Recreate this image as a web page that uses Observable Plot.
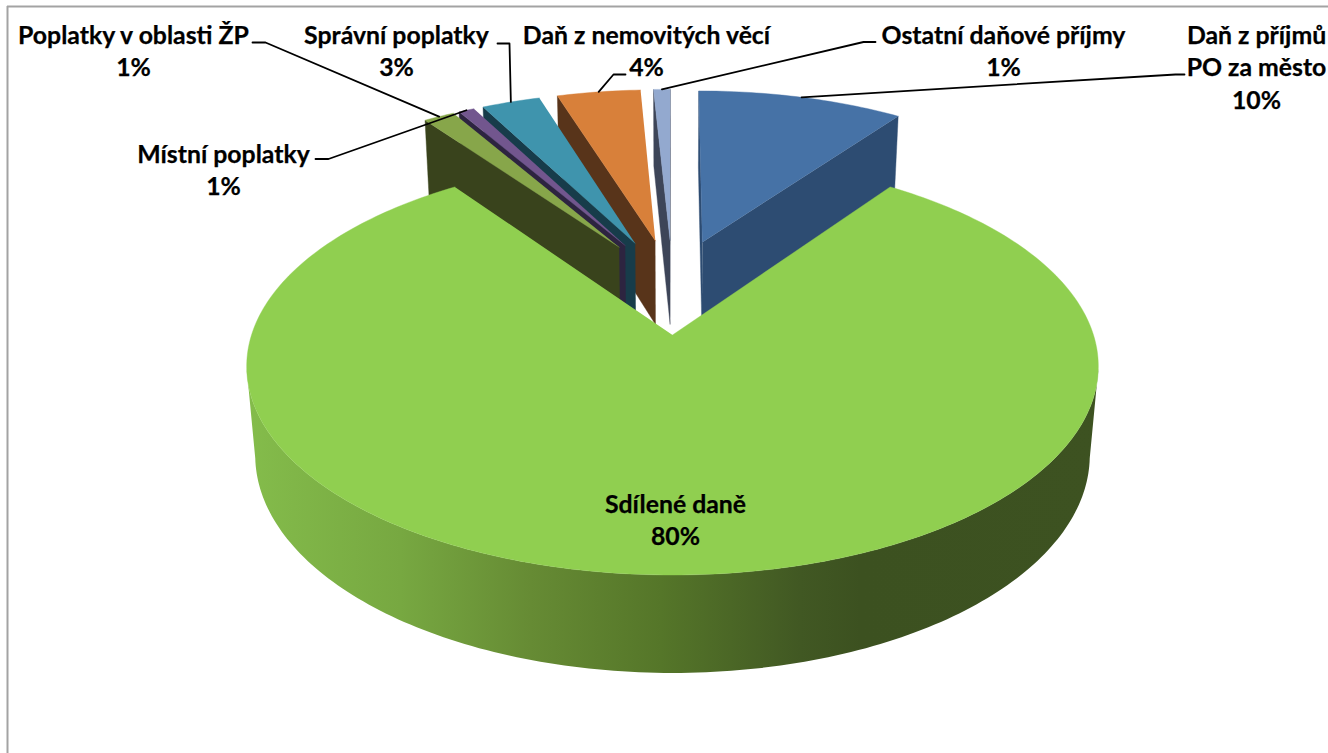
<!DOCTYPE html>
<html>
<head>
<meta charset="utf-8">
<script src="https://cdn.jsdelivr.net/npm/d3@7"></script>
<script src="https://cdn.jsdelivr.net/npm/@observablehq/plot@0.6"></script>
<style>
html,body{margin:0;padding:0;background:#fff;overflow:hidden}
svg{display:block}
</style>
</head>
<body>
<div id="chart"></div>
<script>
// Data, clockwise from the large slice
const names = ["Sdílené daně","Poplatky v oblasti ŽP","Místní poplatky","Správní poplatky","Daň z nemovitých věcí","Ostatní daňové příjmy","Daň z příjmů\nPO za město"];
const shares = [80.3, 1.49, 0.76, 2.8, 4.0, 0.8, 9.85];
const topColors = ["#90cf50","#87a64a","#72568e","#3f94ad","#d8803a","#93a9cf","#4672a6"];
const wallColors = ["#3c5120","#39431c","#2d2440","#173c4a","#58341a","#3d4558","#2d4c72"];

// Layout (separate from data): label centres and leader elbows
const labelAt = [[675,518],[133,49],[223,168],[396,49],[646,49],[1003,49],[1256,65.5]];
const leaderFrom = [null,[[252,42],[265,42]],[[315,158.5],[328,158.5]],[[497,43],[509,43]],[[625,74],[613,74]],[[875,41.5],[863,41.5]],[[1184,74],[1175,74]]];

// Perspective view of the exploded pie
const view = {cx:672, cy:334.5, A:421, B:204, H:90, k:0.15, m:0.02, e:0.25, rSmall:0.97};
const project = (u,v,h) => {
  const w = 1 - view.k*v + view.m*h;
  return {x:view.cx + view.A*u/w, y:view.cy + (view.B*v + view.H*h)/w};
};
const rad = d => d*Math.PI/180;
const cam = [0, 1/view.k];
const start = 180 - shares[0]*3.6/2;
const cum = d3.cumsum(shares);
const slices = shares.map((s,i) => {
  const t0 = start + (i ? cum[i-1] : 0)*3.6, t1 = t0 + s*3.6, b = (t0+t1)/2;
  const c = [view.e*Math.sin(rad(b)), -view.e*Math.cos(rad(b)) - view.e];
  return {i,t0,t1,b,c,r:i ? view.rSmall : 1};
});
const rimPt = (sl,t,h) => project(sl.c[0]+sl.r*Math.sin(rad(t)), sl.c[1]-sl.r*Math.cos(rad(t)), h);
const arcAngles = sl => { const n = Math.max(6, Math.ceil((sl.t1-sl.t0)/1)); return d3.range(n+1).map(j => sl.t0+(sl.t1-sl.t0)*j/n); };
const topFace = sl => [project(sl.c[0],sl.c[1],0), ...arcAngles(sl).map(t => rimPt(sl,t,0))];
// only the part of the rim that faces the viewer
const rimFace = sl => {
  const a = arcAngles(sl).filter(t => Math.sin(rad(t))*(cam[0]-sl.c[0]) - Math.cos(rad(t))*(cam[1]-sl.c[1]) - sl.r > 0);
  return [...a.map(t => rimPt(sl,t,0)), ...a.slice().reverse().map(t => rimPt(sl,t,1))];
};
const wallFace = (sl,t) => [project(sl.c[0],sl.c[1],0), rimPt(sl,t,0), rimPt(sl,t,1), project(sl.c[0],sl.c[1],1)];
const wallVisible = (sl,t,side) => {
  const d = [Math.sin(rad(t)), -Math.cos(rad(t))];
  const n = side>0 ? [-d[1], d[0]] : [d[1], -d[0]]; // side>0: clockwise edge
  return n[0]*(cam[0]-sl.c[0]) + n[1]*(cam[1]-sl.c[1]) > 0;
};
const poly = (pts,fill) => Plot.line(pts,{x:"x",y:"y",fill,stroke:fill,strokeWidth:0.4,curve:"linear"});

const marks = [];
// defs for the rim shading
marks.push(() => {
  const s = d3.create("svg:g");
  const g = s.append("defs").append("linearGradient").attr("id","rim").attr("gradientUnits","userSpaceOnUse")
    .attr("x1",0).attr("x2",1328).attr("y1",0).attr("y2",0);
  [[247,"#84bc4b"],[400,"#77a841"],[530,"#668b34"],[660,"#557629"],[800,"#415823"],[860,"#3c5120"],[1100,"#3d5221"]]
    .forEach(([x,c]) => g.append("stop").attr("offset",x/1328).attr("stop-color",c));
  return s.node();
});
// frame
marks.push(Plot.ruleX([7],{y1:6,y2:753,stroke:"#a3a3a3",strokeWidth:2}));
marks.push(Plot.ruleY([6],{x1:7,x2:1328,stroke:"#a3a3a3",strokeWidth:2}));
// small slices, right to left so nearer ones paint last
slices.slice(1).reverse().forEach(sl => {
  if (wallVisible(sl,sl.t0,-1)) marks.push(poly(wallFace(sl,sl.t0), wallColors[sl.i]));
  if (wallVisible(sl,sl.t1,1)) marks.push(poly(wallFace(sl,sl.t1), wallColors[sl.i]));
  marks.push(poly(topFace(sl), topColors[sl.i]));
});
// big slice
marks.push(Plot.line(rimFace(slices[0]),{x:"x",y:"y",fill:"url(#rim)",stroke:"none"}));
marks.push(poly(topFace(slices[0]), topColors[0]));
// leaders
slices.slice(1).forEach(sl => {
  const p = rimPt(sl,sl.b,0);
  const pts = [...leaderFrom[sl.i].map(([x,y]) => ({x,y})), p];
  marks.push(Plot.line(pts,{x:"x",y:"y",stroke:"#000",strokeWidth:1.8,curve:"linear"}));
});
// labels
const labels = names.map((n,i) => ({x:labelAt[i][0], y:labelAt[i][1], text:n+"\n"+Math.round(shares[i])+"%"}));
marks.push(Plot.text(labels,{x:"x",y:"y",text:"text",fontFamily:"Lato",fontWeight:700,fontSize:24.8,lineHeight:1.31,fill:"#000",stroke:"#000",strokeWidth:0.25,textAnchor:"middle",lineAnchor:"middle"}));

const chart = Plot.plot({
  width:1328,height:753,margin:0,
  style:{background:"#fff"},
  x:{type:"linear",domain:[0,1328],range:[0,1328],axis:null},
  y:{type:"linear",domain:[0,753],range:[0,753],axis:null},
  marks
});
document.getElementById("chart").append(chart);
</script>
</body>
</html>
